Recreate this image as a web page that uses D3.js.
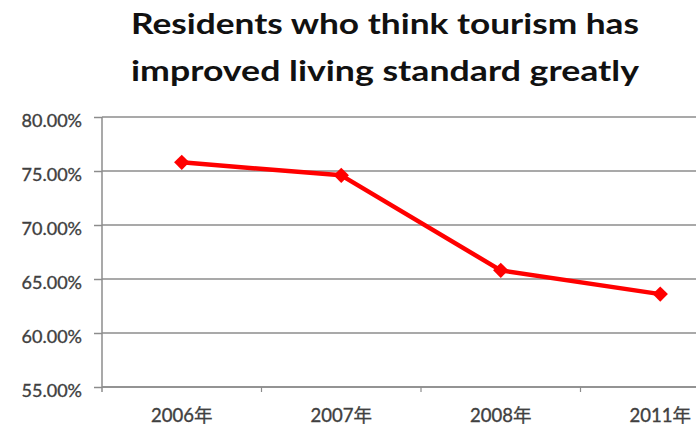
<!DOCTYPE html>
<html>
<head>
<meta charset="utf-8">
<script src="https://cdn.jsdelivr.net/npm/d3@7"></script>
<style>
  html, body { margin: 0; padding: 0; background: #fff; }
  svg { display: block; }
</style>
</head>
<body>
<svg id="chart" width="696" height="431"></svg>
<script>
// Survey results by year
const titleLines = ["Residents who think tourism has", "improved living standard greatly"];
const years = ["2006年", "2007年", "2008年", "2011年"];
const shares = [75.8, 74.6, 65.8, 63.6];
const yTicks = [55, 60, 65, 70, 75, 80];

const svg = d3.select("#chart");
const fontFamily = "Lato, 'Noto Sans CJK SC', sans-serif";

const plot = { left: 102, top: 117, bottom: 387, step: 159.5 };

const x = d3.scaleBand()
  .domain(years)
  .range([plot.left, plot.left + plot.step * years.length])
  .paddingInner(0).paddingOuter(0);

const y = d3.scaleLinear()
  .domain([55, 80])
  .range([plot.bottom, plot.top]);

// Title
const title = svg.append("g")
  .attr("font-family", fontFamily)
  .attr("font-weight", 700)
  .attr("font-size", 29)
  .attr("fill", "#111");
titleLines.forEach((t, i) => {
  title.append("text")
    .attr("x", 385)
    .attr("y", 34 + i * 47)
    .attr("text-anchor", "middle")
    .attr("textLength", 508)
    .attr("lengthAdjust", "spacingAndGlyphs")
    .text(t);
});

// Horizontal gridlines
svg.append("g")
  .selectAll("line")
  .data(yTicks)
  .join("line")
  .attr("x1", plot.left)
  .attr("x2", 696)
  .attr("y1", d => y(d))
  .attr("y2", d => y(d))
  .attr("stroke", "#8c8c8c")
  .attr("stroke-width", 1.5);

// Y axis
const yAxis = svg.append("g")
  .attr("transform", `translate(${plot.left},0)`)
  .call(d3.axisLeft(y).tickValues(yTicks).tickSize(8).tickPadding(12)
    .tickFormat(d => d.toFixed(2) + "%"));
yAxis.select(".domain").attr("stroke", "#8c8c8c").attr("stroke-width", 1.5)
  .attr("d", `M0,${plot.top}V${plot.bottom + 5}`);
yAxis.selectAll(".tick line").attr("stroke", "#8c8c8c").attr("stroke-width", 1.5);
yAxis.selectAll(".tick text")
  .attr("font-family", fontFamily)
  .attr("font-size", 18)
  .attr("dy", "0.5em")
  .attr("fill", "#404040")
  .attr("stroke", "#404040")
  .attr("stroke-width", 0.35);

// X axis with tick marks at category boundaries
const xAxis = svg.append("g")
  .attr("transform", `translate(0,${plot.bottom})`);
xAxis.append("line")
  .attr("x1", plot.left).attr("x2", 696)
  .attr("stroke", "#8c8c8c").attr("stroke-width", 1.5);
xAxis.selectAll("line.boundary")
  .data(years.slice(1))
  .join("line")
  .attr("class", "boundary")
  .attr("x1", d => x(d)).attr("x2", d => x(d))
  .attr("y1", 0).attr("y2", 5)
  .attr("stroke", "#8c8c8c").attr("stroke-width", 1.2);
xAxis.selectAll("text")
  .data(years)
  .join("text")
  .attr("x", d => x(d) + x.bandwidth() / 2)
  .attr("y", 35)
  .attr("text-anchor", "middle")
  .attr("font-family", fontFamily)
  .attr("font-size", 18.5)
  .attr("fill", "#404040")
  .attr("stroke", "#404040")
  .attr("stroke-width", 0.35)
  .text(d => d);

// Series line
const pts = years.map((yr, i) => [x(yr) + x.bandwidth() / 2, y(shares[i])]);
svg.append("path")
  .datum(pts)
  .attr("d", d3.line())
  .attr("fill", "none")
  .attr("stroke", "#ff0000")
  .attr("stroke-width", 4.5)
  .attr("stroke-linejoin", "round");

// Diamond markers
svg.append("g")
  .selectAll("path")
  .data(pts)
  .join("path")
  .attr("transform", d => `translate(${d[0]},${d[1]})`)
  .attr("d", d3.symbol(d3.symbolDiamond2, 150))
  .attr("fill", "#ff0000");
</script>
</body>
</html>
